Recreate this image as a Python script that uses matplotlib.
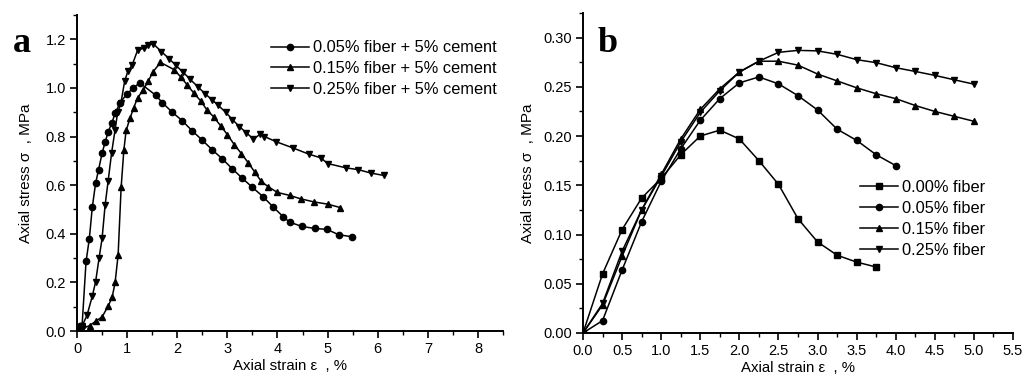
import matplotlib
matplotlib.use("Agg")
import matplotlib.pyplot as plt
from matplotlib.ticker import MultipleLocator

plt.rcParams['font.family'] = ['Liberation Sans', 'DejaVu Sans']

# panel a: fiber + 5% cement
a_labels = ["0.05% fiber + 5% cement", "0.15% fiber + 5% cement", "0.25% fiber + 5% cement"]

a_x1 = [0.0, 0.05, 0.1, 0.18, 0.245, 0.305, 0.37, 0.43, 0.50, 0.56, 0.62, 0.69, 0.76, 0.86,
        1.0, 1.12, 1.25, 1.57, 1.70, 1.89, 2.10, 2.30, 2.50, 2.70, 2.90, 3.10, 3.30, 3.50,
        3.71, 3.91, 4.11, 4.24, 4.49, 4.74, 4.99, 5.22, 5.48]
a_y1 = [0.01, 0.02, 0.02, 0.286, 0.379, 0.51, 0.607, 0.664, 0.731, 0.777, 0.818, 0.854, 0.895, 0.94,
        0.976, 0.999, 1.021, 0.97, 0.94, 0.902, 0.865, 0.823, 0.785, 0.745, 0.708, 0.667, 0.628, 0.591,
        0.553, 0.511, 0.471, 0.448, 0.43, 0.422, 0.418, 0.396, 0.388]

a_x2 = [0.0, 0.1, 0.25, 0.37, 0.50, 0.62, 0.70, 0.76, 0.82, 0.88, 0.935, 0.98, 1.06, 1.13, 1.21,
        1.32, 1.42, 1.52, 1.665, 1.94, 2.07, 2.20, 2.33, 2.47, 2.59, 2.73, 2.87, 3.00, 3.14,
        3.28, 3.42, 3.55, 3.675, 3.81, 4.0, 4.24, 4.46, 4.73, 5.0, 5.25]
a_y2 = [0.0, 0.01, 0.022, 0.04, 0.058, 0.102, 0.138, 0.20, 0.313, 0.591, 0.746, 0.825, 0.877, 0.918,
        0.96, 0.991, 1.028, 1.067, 1.105, 1.075, 1.045, 1.012, 0.979, 0.946, 0.91, 0.88, 0.843,
        0.808, 0.766, 0.73, 0.691, 0.653, 0.616, 0.594, 0.57, 0.558, 0.544, 0.531, 0.522, 0.508]

a_x3 = [0.0, 0.1, 0.2, 0.305, 0.37, 0.44, 0.50, 0.56, 0.62, 0.69, 0.76, 0.81, 0.875, 0.95, 1.015,
        1.10, 1.21, 1.33, 1.42, 1.52, 1.685, 1.84, 1.97, 2.12, 2.26, 2.41, 2.55, 2.69, 2.82,
        2.97, 3.10, 3.24, 3.38, 3.52, 3.66, 3.74, 3.97, 4.31, 4.62, 4.87, 5.0, 5.37, 5.61,
        5.86, 6.12]
a_y3 = [0.0, 0.02, 0.065, 0.144, 0.202, 0.30, 0.381, 0.517, 0.616, 0.733, 0.829, 0.899, 0.937,
        1.028, 1.069, 1.094, 1.156, 1.163, 1.177, 1.182, 1.149, 1.12, 1.093, 1.064, 1.035,
        1.005, 0.977, 0.952, 0.928, 0.899, 0.87, 0.841, 0.815, 0.79, 0.81, 0.8, 0.779, 0.753,
        0.728, 0.712, 0.689, 0.671, 0.664, 0.65, 0.64]

# panel b: fiber only
b_labels = ["0.00% fiber", "0.05% fiber", "0.15% fiber", "0.25% fiber"]

b_x0 = [0.0, 0.25, 0.5, 0.75, 1.0, 1.25, 1.5, 1.75, 2.0, 2.25, 2.5, 2.75, 3.0, 3.25, 3.5, 3.75]
b_y0 = [0.0, 0.060, 0.105, 0.137, 0.157, 0.181, 0.200, 0.206, 0.197, 0.175, 0.151, 0.116,
        0.0925, 0.079, 0.072, 0.067]

b_x1 = [0.0, 0.25, 0.5, 0.75, 1.0, 1.25, 1.5, 1.75, 2.0, 2.25, 2.5, 2.75, 3.0, 3.25, 3.5, 3.75, 4.0]
b_y1 = [0.0, 0.0126, 0.064, 0.113, 0.154, 0.187, 0.216, 0.238, 0.254, 0.260, 0.253, 0.241,
        0.2265, 0.207, 0.1956, 0.181, 0.170]

b_x2 = [0.0, 0.25, 0.5, 0.75, 1.0, 1.25, 1.5, 1.75, 2.0, 2.25, 2.5, 2.75, 3.0, 3.25, 3.5, 3.75,
        4.0, 4.25, 4.5, 4.75, 5.0]
b_y2 = [0.0, 0.0285, 0.078, 0.125, 0.161, 0.197, 0.227, 0.248, 0.265, 0.276, 0.276, 0.272,
        0.263, 0.256, 0.249, 0.243, 0.238, 0.231, 0.225, 0.220, 0.215]

b_x3 = [0.0, 0.25, 0.5, 0.75, 1.0, 1.25, 1.5, 1.75, 2.0, 2.25, 2.5, 2.75, 3.0, 3.25, 3.5, 3.75,
        4.0, 4.25, 4.5, 4.75, 5.0]
b_y3 = [0.0, 0.030, 0.083, 0.125, 0.159, 0.194, 0.224, 0.246, 0.265, 0.276, 0.285, 0.287,
        0.2865, 0.283, 0.2776, 0.2745, 0.2694, 0.2656, 0.2616, 0.2571, 0.2527]


def style_axes(ax):
    for side in ['top', 'right']:
        ax.spines[side].set_visible(False)
    for side in ['left', 'bottom']:
        ax.spines[side].set_linewidth(1.4)
    ax.tick_params(which='major', direction='out', length=5, width=1.2, labelsize=10.5, pad=3)
    ax.tick_params(which='minor', direction='out', length=3, width=1.0)


fig = plt.figure(figsize=(10.23, 3.81), dpi=100)
ax1 = fig.add_axes([0.0753, 0.1312, 0.4164, 0.8294])
ax2 = fig.add_axes([0.5699, 0.1260, 0.4203, 0.8400])

line_kw = dict(color='black', lw=1.1)
leg_kw = dict(loc='upper left', frameon=False, fontsize=11.8, handlelength=2.3,
              handletextpad=0.25, labelspacing=0.36, borderpad=0, borderaxespad=0)

ax1.plot(a_x1, a_y1, marker='o', ms=4.5, label=a_labels[0], **line_kw)
ax1.plot(a_x2, a_y2, marker='^', ms=5, label=a_labels[1], **line_kw)
ax1.plot(a_x3, a_y3, marker='v', ms=5, label=a_labels[2], **line_kw)
ax1.set_xlim(0, 8.5)
ax1.set_ylim(0, 1.3)
ax1.xaxis.set_major_locator(MultipleLocator(1))
ax1.xaxis.set_minor_locator(MultipleLocator(0.5))
ax1.yaxis.set_major_locator(MultipleLocator(0.2))
ax1.yaxis.set_minor_locator(MultipleLocator(0.1))
ax1.yaxis.set_major_formatter(plt.FormatStrFormatter('%.1f'))
style_axes(ax1)
ax1.set_xlabel("Axial strain \u03b5  , %", fontsize=10.8, labelpad=2)
ax1.set_ylabel("Axial stress \u03c3  , MPa", fontsize=11, labelpad=9)
ax1.legend(bbox_to_anchor=(0.455, 0.92), **leg_kw)
ax1.text(-0.13, 0.91, 'a', transform=ax1.transAxes, fontsize=26, fontweight='bold',
         family='Liberation Serif', va='center', ha='center')

ax2.plot(b_x0, b_y0, marker='s', ms=4.5, label=b_labels[0], **line_kw)
ax2.plot(b_x1, b_y1, marker='o', ms=4.5, label=b_labels[1], **line_kw)
ax2.plot(b_x2, b_y2, marker='^', ms=5, label=b_labels[2], **line_kw)
ax2.plot(b_x3, b_y3, marker='v', ms=5, label=b_labels[3], **line_kw)
ax2.set_xlim(0, 5.5)
ax2.set_ylim(0, 0.325)
ax2.xaxis.set_major_locator(MultipleLocator(0.5))
ax2.xaxis.set_minor_locator(MultipleLocator(0.25))
ax2.yaxis.set_major_locator(MultipleLocator(0.05))
ax2.yaxis.set_minor_locator(MultipleLocator(0.025))
ax2.xaxis.set_major_formatter(plt.FormatStrFormatter('%.1f'))
ax2.yaxis.set_major_formatter(plt.FormatStrFormatter('%.2f'))
style_axes(ax2)
ax2.set_xlabel("Axial strain \u03b5  , %", fontsize=10.8, labelpad=2)
ax2.set_ylabel("Axial stress \u03c3  , MPa", fontsize=11, labelpad=6)
ax2.legend(bbox_to_anchor=(0.645, 0.478), **leg_kw)
ax2.text(0.058, 0.905, 'b', transform=ax2.transAxes, fontsize=26, fontweight='bold',
         family='Liberation Serif', va='center', ha='center')

fig.savefig('out.png', dpi=100)
